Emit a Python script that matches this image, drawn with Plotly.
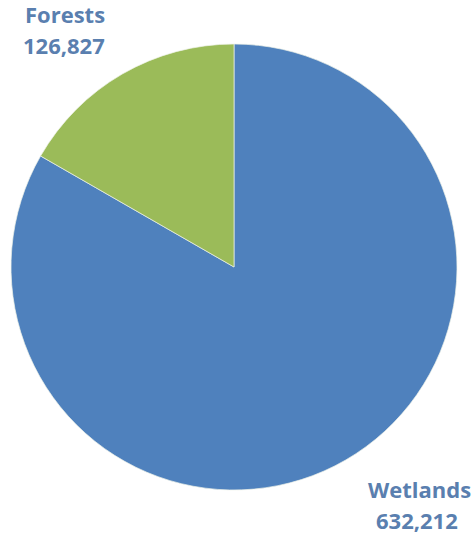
import plotly.graph_objects as go

# Land cover areas
categories = ["Wetlands", "Forests"]
areas = [632212, 126827]
colors = ["#4F81BD", "#9BBB59"]

W, H = 472, 543
cx, cy, r = 234, 267, 223  # pie centre and radius in pixels

fig = go.Figure(
    go.Pie(
        labels=categories,
        values=areas,
        sort=False,
        direction="clockwise",
        rotation=0,
        textinfo="none",
        marker=dict(colors=colors, line=dict(color="#eef2e8", width=0.7)),
        showlegend=False,
        domain=dict(
            x=[(cx - r) / W, (cx + r) / W],
            y=[1 - (cy + r) / H, 1 - (cy - r) / H],
        ),
    )
)

# Outside labels: name line over value line (pixel centres)
label_pos = {
    "Forests": ((65, 14), (64, 45)),
    "Wetlands": ((419, 489), (417, 520)),
}
label_font = dict(family="Open Sans", size=22, color="#5A7FAF", weight="bold")
for name, val in zip(categories, areas):
    (nx, ny), (vx, vy) = label_pos[name]
    for text, px, py in ((name, nx, ny), (f"{val:,}", vx, vy)):
        fig.add_annotation(
            x=px / W,
            y=1 - py / H,
            xref="paper",
            yref="paper",
            text=text,
            showarrow=False,
            xanchor="center",
            yanchor="middle",
            font=label_font,
        )

fig.update_layout(
    width=W,
    height=H,
    margin=dict(l=0, r=0, t=0, b=0),
    paper_bgcolor="white",
    plot_bgcolor="white",
)

fig.write_html("out.html")
